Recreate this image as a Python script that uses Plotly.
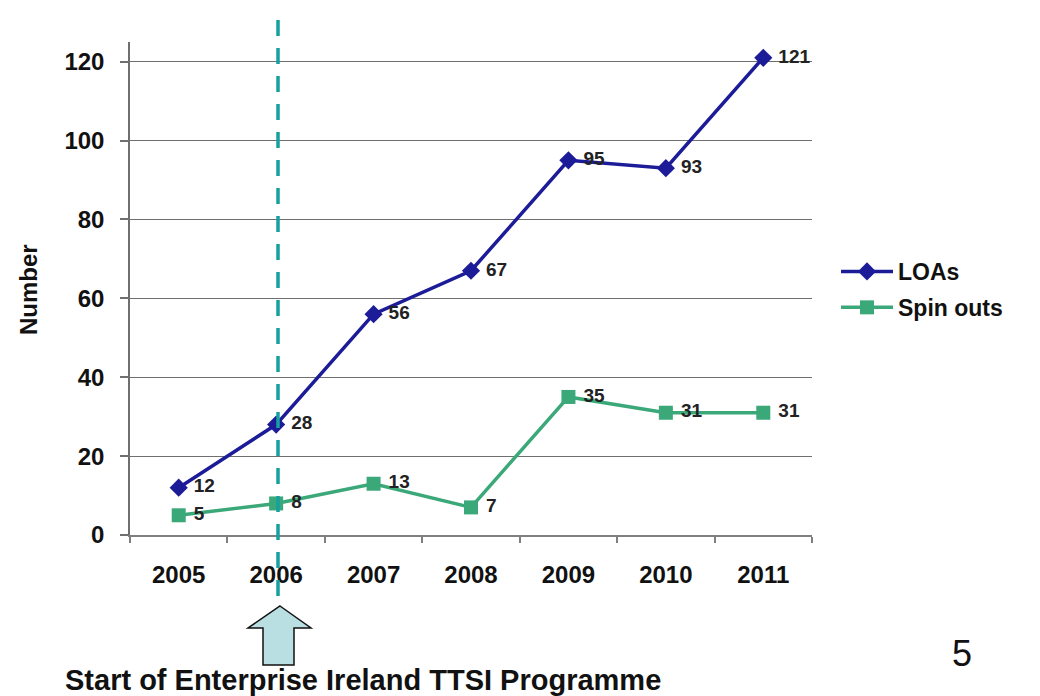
import plotly.graph_objects as go

years = ["2005", "2006", "2007", "2008", "2009", "2010", "2011"]
loas = [12, 28, 56, 67, 95, 93, 121]
spin_outs = [5, 8, 13, 7, 35, 31, 31]
y_ticks = [0, 20, 40, 60, 80, 100, 120]

FONT = "Liberation Sans, Arial, sans-serif"
NAVY = "#1c1c99"
GREEN = "#3aa878"
TEAL = "#17a0a0"

OFF = 8  # page body margin
W, H = 1040 - OFF, 696 - OFF
L, R, T, B = 130, 812, 42, 535  # in reference pixels
pw, ph = R - L, B - T


def px(x):
    return (x - L) / pw


def py(y):
    return (B - y) / ph


def lab(vals):
    return ["\u00a0" + str(v) for v in vals]


fig = go.Figure()
fig.add_trace(go.Scatter(
    x=years, y=loas, name="LOAs", mode="lines+markers+text",
    line=dict(color=NAVY, width=3.5),
    marker=dict(symbol="diamond", size=14, color=NAVY),
    text=lab(loas), textposition="middle right", cliponaxis=False,
    textfont=dict(family=FONT, size=19, color="#222", weight="bold"),
    legendgroup="a",
))
fig.add_trace(go.Scatter(
    x=years, y=spin_outs, name="Spin outs", mode="lines+markers+text",
    line=dict(color=GREEN, width=3.5),
    marker=dict(symbol="square", size=14, color=GREEN),
    text=lab(spin_outs), textposition="middle right", cliponaxis=False,
    textfont=dict(family=FONT, size=19, color="#222", weight="bold"),
    legendgroup="b",
))

# dashed vertical marker line at 2006
fig.add_shape(type="line", xref="paper", yref="paper", x0=px(278), x1=px(278),
              y0=py(596), y1=py(12),
              line=dict(color=TEAL, width=3.5, dash="16px,12px"))

# up arrow
ax = [280, 311, 294, 294, 263, 263, 248]
ay = [606, 628, 628, 665, 665, 628, 628]
path = "M " + " L ".join(f"{px(a):.5f},{py(b):.5f}" for a, b in zip(ax, ay)) + " Z"
fig.add_shape(type="path", xref="paper", yref="paper", path=path,
              fillcolor="#b9dfe3", line=dict(color="#111", width=1.5))

fig.add_annotation(xref="paper", yref="paper", x=px(63), y=py(680),
                   xanchor="left", yanchor="middle", showarrow=False,
                   text="Start of Enterprise Ireland TTSI Programme",
                   font=dict(family=FONT, size=29, color="#111", weight="bold"))
fig.add_annotation(xref="paper", yref="paper", x=px(962), y=py(653),
                   xanchor="center", yanchor="middle", showarrow=False,
                   text="5", font=dict(family=FONT, size=36, color="#111"))
fig.add_annotation(xref="paper", yref="paper", x=px(28), y=py(290),
                   xanchor="center", yanchor="middle", showarrow=False,
                   text="Number", textangle=-90,
                   font=dict(family=FONT, size=24, color="#111", weight="bold"))

fig.update_layout(
    width=W, height=H,
    margin=dict(l=L - OFF, r=W - (R - OFF), t=T - OFF, b=H - (B - OFF), pad=0),
    plot_bgcolor="white", paper_bgcolor="white",
    font=dict(family=FONT, color="#111"),
    showlegend=True,
    legend=dict(x=px(836), y=py(250), xanchor="left", yanchor="top",
                font=dict(family=FONT, size=23, color="#111", weight="bold"),
                traceorder="grouped", tracegroupgap=3,
                itemwidth=52, bgcolor="rgba(0,0,0,0)"),
    xaxis=dict(type="category", categoryarray=years, range=[-0.5, 6.5],
               showgrid=False, showline=True, linecolor="#7f7f7f", linewidth=1.5,
               ticks="outside", tickson="boundaries", ticklen=6, tickcolor="#7f7f7f",
               tickwidth=1.5, ticklabelstandoff=17,
               tickfont=dict(family=FONT, size=24, color="#111", weight="bold")),
    yaxis=dict(range=[0, 125], tickvals=y_ticks, showgrid=True,
               gridcolor="#6f6f6f", gridwidth=1.3, zeroline=False,
               showline=True, linecolor="#6f6f6f", linewidth=1.5,
               ticks="outside", ticklen=8, tickcolor="#6f6f6f", tickwidth=1.5,
               ticklabelstandoff=11,
               tickfont=dict(family=FONT, size=24, color="#111", weight="bold")),
)

fig.write_html("out.html")
